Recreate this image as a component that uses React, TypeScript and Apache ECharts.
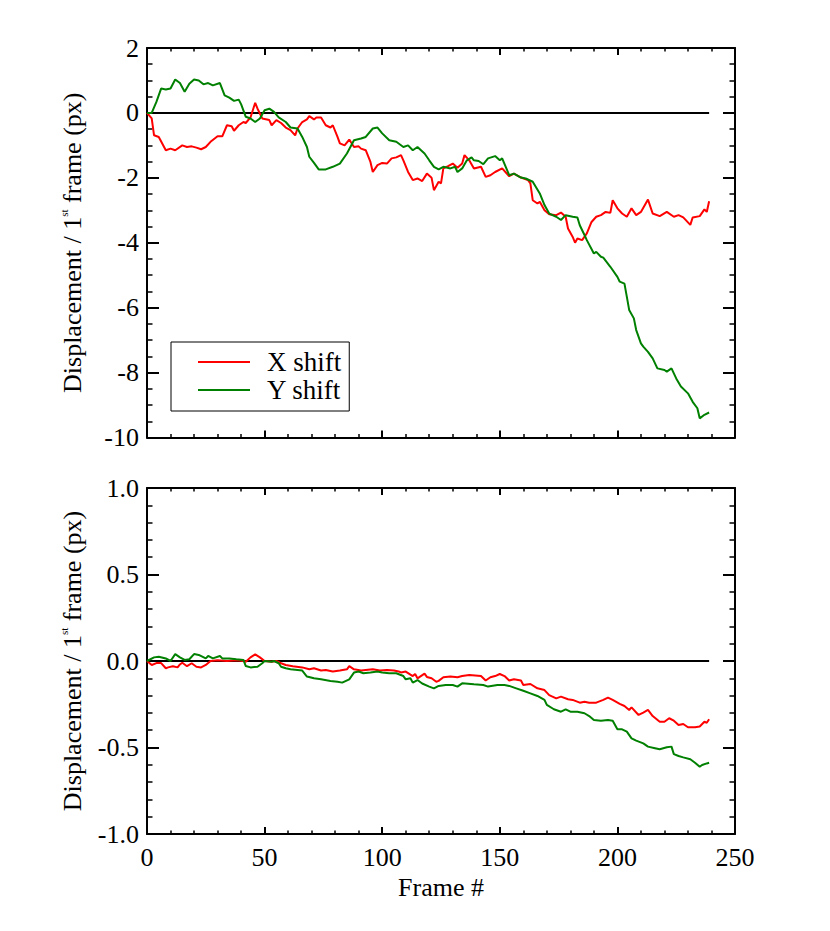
import React, { useEffect, useRef } from "react";
import * as echarts from "echarts";

const FONT = "'Liberation Serif', 'Times New Roman', serif";
const RED = "#ff0000";
const GREEN = "#008000";

// X-axis ticks
const frameTicks = [0, 50, 100, 150, 200, 250];
const zeroFrames = [0, 239];

// Top panel: X shift (red)
const topXFrames = [0, 2, 3, 5, 8, 10, 12, 15, 17, 19, 21, 23, 25, 27, 30, 32, 34, 36, 37, 39, 41, 42, 44, 46, 47, 49, 52, 53, 55, 57, 59, 61, 63, 64, 66, 68, 69, 71, 72, 74, 76, 78, 79, 81, 82, 84, 86, 88, 90, 91, 93, 95, 96, 98, 100, 102, 104, 106, 108, 109, 111, 113, 115, 117, 119, 121, 122, 124, 125, 126, 128, 130, 132, 134, 135, 137, 139, 142, 144, 146, 148, 151, 154, 156, 159, 162, 163, 164, 166, 167, 169, 171, 174, 176, 178, 179, 181, 182, 183, 185, 187, 189, 191, 193, 195, 197, 198, 200, 202, 204, 206, 208, 210, 213, 215, 218, 221, 224, 226, 228, 231, 232, 235, 237, 238, 239];
const topXValues = [0, -0.17, -0.69, -0.74, -1.15, -1.1, -1.15, -1.0, -1.05, -1.03, -1.07, -1.12, -1.05, -0.89, -0.72, -0.72, -0.38, -0.41, -0.55, -0.38, -0.28, -0.31, -0.14, 0.31, 0.13, -0.17, -0.22, -0.38, -0.22, -0.31, -0.45, -0.53, -0.69, -0.48, -0.28, -0.2, -0.1, -0.2, -0.14, -0.14, -0.38, -0.45, -0.38, -0.74, -0.94, -1.0, -0.82, -1.05, -1.03, -1.1, -1.15, -1.51, -1.82, -1.61, -1.54, -1.56, -1.4, -1.37, -1.3, -1.46, -1.82, -2.07, -2.02, -2.1, -1.87, -2.0, -2.38, -2.12, -2.17, -1.71, -1.64, -1.56, -1.69, -1.56, -1.3, -1.46, -1.71, -1.66, -1.97, -1.92, -1.82, -1.71, -1.95, -1.87, -1.99, -2.07, -2.17, -2.69, -2.79, -2.74, -3.0, -3.12, -3.15, -3.07, -3.2, -3.56, -3.82, -4.0, -3.87, -3.92, -3.71, -3.36, -3.2, -3.15, -3.05, -3.08, -2.69, -2.94, -3.1, -3.2, -2.94, -3.15, -3.05, -2.67, -3.1, -3.18, -3.05, -3.2, -3.15, -3.22, -3.45, -3.22, -3.18, -2.97, -3.05, -2.72];

// Top panel: Y shift (green)
const topYFrames = [0, 2, 4, 6, 8, 10, 12, 14, 16, 18, 20, 22, 24, 26, 28, 31, 33, 35, 37, 39, 40, 42, 44, 46, 48, 50, 52, 54, 56, 59, 61, 64, 66, 68, 69, 71, 73, 76, 79, 82, 85, 88, 91, 93, 96, 98, 100, 103, 106, 109, 111, 113, 115, 118, 120, 122, 124, 126, 129, 131, 132, 134, 136, 138, 139, 141, 143, 145, 148, 150, 151, 154, 156, 159, 161, 164, 167, 169, 171, 174, 176, 178, 181, 183, 184, 186, 187, 190, 191, 193, 194, 197, 200, 201, 203, 204, 205, 207, 208, 210, 211, 213, 215, 217, 220, 221, 223, 225, 227, 230, 232, 234, 235, 237, 239];
const topYValues = [0, 0, 0.34, 0.75, 0.72, 0.75, 1.03, 0.92, 0.65, 0.9, 1.03, 1.0, 0.88, 0.92, 0.85, 0.92, 0.54, 0.47, 0.37, 0.41, 0.27, -0.12, -0.17, -0.28, -0.17, 0.08, 0.13, 0.03, -0.14, -0.28, -0.45, -0.48, -0.74, -1.05, -1.35, -1.54, -1.74, -1.74, -1.66, -1.56, -1.25, -0.84, -0.79, -0.74, -0.48, -0.45, -0.63, -0.84, -0.89, -1.05, -1.0, -1.15, -1.05, -1.25, -1.46, -1.66, -1.74, -1.66, -1.71, -1.66, -1.82, -1.71, -1.46, -1.37, -1.46, -1.48, -1.58, -1.4, -1.33, -1.46, -1.4, -1.92, -1.87, -1.99, -2.02, -2.12, -2.48, -2.84, -3.1, -3.2, -3.3, -3.15, -3.2, -3.22, -3.46, -3.76, -3.92, -4.33, -4.28, -4.43, -4.46, -4.74, -5.05, -5.2, -5.26, -5.66, -6.07, -6.33, -6.69, -7.1, -7.2, -7.36, -7.56, -7.87, -7.92, -7.97, -7.87, -8.18, -8.43, -8.64, -8.9, -9.1, -9.41, -9.3, -9.23];

// Bottom panel: X shift (red)
const botXFrames = [0, 2, 4, 6, 8, 9, 11, 13, 14, 15, 17, 19, 21, 23, 25, 27, 30, 34, 38, 41, 42, 44, 46, 48, 50, 53, 55, 57, 59, 62, 66, 69, 71, 74, 76, 79, 82, 85, 86, 88, 91, 93, 96, 99, 102, 105, 107, 108, 110, 113, 114, 115, 118, 119, 121, 123, 124, 126, 129, 132, 134, 137, 142, 144, 146, 148, 150, 152, 154, 156, 159, 160, 163, 166, 169, 171, 174, 176, 179, 181, 184, 186, 188, 191, 194, 196, 198, 201, 203, 205, 206, 209, 211, 213, 215, 218, 220, 222, 224, 226, 228, 230, 233, 235, 237, 238, 239];
const botXValues = [0, -0.023, -0.012, -0.012, -0.042, -0.037, -0.03, -0.037, -0.02, -0.01, -0.03, -0.013, -0.033, -0.037, -0.023, 0, 0.004, 0, 0.004, 0, -0.004, 0.021, 0.038, 0.021, 0, -0.004, 0, -0.013, -0.023, -0.03, -0.037, -0.048, -0.042, -0.055, -0.052, -0.061, -0.055, -0.048, -0.03, -0.048, -0.055, -0.052, -0.048, -0.055, -0.052, -0.055, -0.061, -0.066, -0.061, -0.087, -0.075, -0.1, -0.073, -0.092, -0.1, -0.12, -0.115, -0.094, -0.09, -0.094, -0.087, -0.081, -0.087, -0.113, -0.094, -0.087, -0.075, -0.087, -0.113, -0.106, -0.113, -0.139, -0.133, -0.158, -0.168, -0.197, -0.216, -0.206, -0.221, -0.225, -0.241, -0.235, -0.241, -0.241, -0.225, -0.212, -0.225, -0.248, -0.26, -0.283, -0.268, -0.312, -0.298, -0.283, -0.318, -0.351, -0.351, -0.331, -0.345, -0.37, -0.364, -0.383, -0.383, -0.379, -0.351, -0.357, -0.337];

// Bottom panel: Y shift (green)
const botYFrames = [0, 3, 5, 8, 10, 12, 14, 16, 18, 20, 22, 25, 26, 28, 31, 32, 35, 38, 41, 42, 44, 47, 49, 50, 53, 54, 56, 57, 59, 61, 64, 66, 68, 71, 74, 78, 81, 83, 86, 88, 90, 92, 95, 98, 100, 103, 106, 109, 110, 112, 113, 115, 117, 120, 122, 124, 127, 130, 132, 134, 139, 143, 145, 149, 152, 154, 157, 160, 163, 166, 169, 170, 173, 176, 178, 180, 183, 186, 188, 190, 193, 196, 198, 200, 202, 204, 206, 208, 211, 213, 216, 218, 221, 223, 224, 226, 228, 231, 233, 235, 236, 238, 239];
const botYValues = [0, 0.021, 0.025, 0.015, 0, 0.04, 0.021, 0.006, 0.01, 0.04, 0.035, 0.015, 0.029, 0.015, 0.029, 0.015, 0.015, 0.01, 0.006, -0.029, -0.037, -0.033, -0.013, 0, -0.004, 0, -0.013, -0.033, -0.042, -0.048, -0.052, -0.055, -0.09, -0.1, -0.106, -0.115, -0.12, -0.125, -0.106, -0.067, -0.061, -0.071, -0.067, -0.061, -0.067, -0.071, -0.071, -0.087, -0.106, -0.1, -0.125, -0.11, -0.13, -0.148, -0.158, -0.144, -0.139, -0.139, -0.148, -0.129, -0.135, -0.139, -0.148, -0.139, -0.139, -0.144, -0.158, -0.172, -0.187, -0.202, -0.225, -0.254, -0.279, -0.293, -0.279, -0.293, -0.293, -0.302, -0.318, -0.341, -0.345, -0.341, -0.345, -0.395, -0.395, -0.408, -0.447, -0.46, -0.476, -0.495, -0.504, -0.51, -0.499, -0.495, -0.538, -0.549, -0.557, -0.568, -0.588, -0.611, -0.601, -0.592, -0.588];

const topYTicks = [-10, -8, -6, -4, -2, 0, 2];
const botYTicks = [-1.0, -0.5, 0.0, 0.5, 1.0];

const zip = (xs: number[], ys: number[]) => xs.map((x, i) => [x, ys[i]]);

const axisLine = { show: true, onZero: false, lineStyle: { color: "#000", width: 2 } };

function makeXAxis(gridIndex: number, position: "top" | "bottom", showLabels: boolean, name?: string) {
  return {
    type: "value",
    gridIndex,
    position,
    min: frameTicks[0],
    max: frameTicks[frameTicks.length - 1],
    interval: frameTicks[1] - frameTicks[0],
    axisLine,
    axisTick: { show: true, inside: true, length: 7, lineStyle: { color: "#000", width: 2 } },
    minorTick: { show: true, splitNumber: 5, length: 3.5, lineStyle: { color: "#000", width: 1.5 } },
    splitLine: { show: false },
    minorSplitLine: { show: false },
    axisLabel: {
      show: showLabels,
      margin: 10,
      fontFamily: FONT,
      fontSize: 26,
      color: "#000",
    },
    name: name || "",
    nameLocation: "middle",
    nameGap: 40,
    nameTextStyle: { fontFamily: FONT, fontSize: 26, color: "#000" },
  };
}

const yName = "{a|Displacement / 1}{s|st}{a| frame (px)}";
const yNameStyle = {
  fontFamily: FONT,
  fontSize: 26,
  color: "#000",
  rich: {
    a: { fontFamily: FONT, fontSize: 26, color: "#000", lineHeight: 28 },
    s: { fontFamily: FONT, fontSize: 11, color: "#000", verticalAlign: "top", lineHeight: 14 },
  },
};

function makeYAxis(
  gridIndex: number,
  position: "left" | "right",
  ticks: number[],
  minorSplit: number,
  decimals: number,
  withName: boolean
) {
  return {
    type: "value",
    gridIndex,
    position,
    min: ticks[0],
    max: ticks[ticks.length - 1],
    interval: ticks[1] - ticks[0],
    axisLine,
    axisTick: { show: true, inside: true, length: 12, lineStyle: { color: "#000", width: 2 } },
    minorTick: { show: true, splitNumber: minorSplit, length: 5.5, lineStyle: { color: "#000", width: 1.5 } },
    splitLine: { show: false },
    minorSplitLine: { show: false },
    axisLabel: {
      show: position === "left",
      margin: 8,
      fontFamily: FONT,
      fontSize: 26,
      color: "#000",
      formatter: (v: number) => (decimals > 0 ? v.toFixed(decimals) : String(v)),
    },
    name: withName ? yName : "",
    nameLocation: "middle",
    nameRotate: 90,
    nameGap: 61,
    nameTextStyle: yNameStyle,
  };
}

function lineSeries(name: string, color: string, data: number[][], xi: number, yi: number, width = 2) {
  return {
    type: "line",
    name,
    xAxisIndex: xi,
    yAxisIndex: yi,
    data,
    symbol: "none",
    showSymbol: false,
    lineStyle: { color, width },
    itemStyle: { color },
    silent: true,
  };
}

const option = {
  animation: false,
  backgroundColor: "#ffffff",
  grid: [
    { left: 147, top: 48, width: 588, height: 389.5, containLabel: false },
    { left: 147, top: 488, width: 588, height: 346, containLabel: false },
  ],
  xAxis: [
    makeXAxis(0, "bottom", false),
    makeXAxis(0, "top", false),
    makeXAxis(1, "bottom", true, "Frame #"),
    makeXAxis(1, "top", false),
  ],
  yAxis: [
    makeYAxis(0, "left", topYTicks, 4, 0, true),
    makeYAxis(0, "right", topYTicks, 4, 0, false),
    makeYAxis(1, "left", botYTicks, 5, 1, true),
    makeYAxis(1, "right", botYTicks, 5, 1, false),
  ],
  legend: {
    show: true,
    orient: "vertical",
    left: 171,
    top: 342,
    data: ["X shift", "Y shift"],
    selectedMode: false,
    borderColor: "#000",
    borderWidth: 1,
    padding: [6, 8, 7, 26],
    itemWidth: 52,
    itemHeight: 14,
    itemGap: 0,
    itemStyle: { opacity: 0, borderWidth: 0 },
    lineStyle: { width: 2 },
    textStyle: { fontFamily: FONT, fontSize: 27, color: "#000", lineHeight: 28, padding: [0, 0, 0, 12] },
  },
  series: [
    lineSeries("zero-top", "#000", zip(zeroFrames, [0, 0]), 0, 0, 2),
    lineSeries("X shift", RED, zip(topXFrames, topXValues), 0, 0),
    lineSeries("Y shift", GREEN, zip(topYFrames, topYValues), 0, 0),
    lineSeries("zero-bottom", "#000", zip(zeroFrames, [0, 0]), 2, 2, 2),
    lineSeries("X shift", RED, zip(botXFrames, botXValues), 2, 2),
    lineSeries("Y shift", GREEN, zip(botYFrames, botYValues), 2, 2),
  ],
};

export default function App() {
  const ref = useRef<HTMLDivElement>(null);
  useEffect(() => {
    if (!ref.current) return;
    const chart = echarts.init(ref.current, null, { renderer: "svg" });
    chart.setOption(option as any);
    return () => chart.dispose();
  }, []);
  return (
    <div
      ref={ref}
      style={{ position: "absolute", left: 0, top: 0, width: 830, height: 931, background: "#fff" }}
    />
  );
}
